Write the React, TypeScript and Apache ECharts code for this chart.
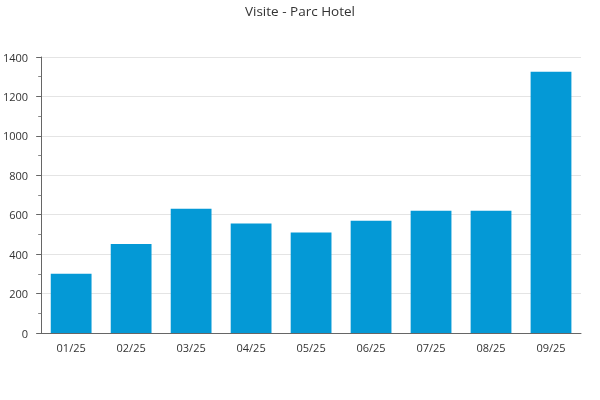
import React, { useEffect, useRef } from "react";
import * as echarts from "echarts";

const categories = ["01/25", "02/25", "03/25", "04/25", "05/25", "06/25", "07/25", "08/25", "09/25"];
const visits = [300, 452, 630, 555, 510, 570, 620, 620, 1325];

export default function App() {
  const ref = useRef<HTMLDivElement>(null);
  useEffect(() => {
    const chart = echarts.init(ref.current!, null, { renderer: "svg" });
    chart.setOption({
      animation: false,
      textStyle: { fontFamily: "Open Sans" },
      title: {
        text: "Visite - Parc Hotel",
        left: "center",
        top: -1,
        textStyle: { fontSize: 13.5, fontWeight: "normal", color: "#333", fontFamily: "Open Sans" },
      },
      grid: { left: 41, right: 19, top: 57, bottom: 67 },
      xAxis: {
        type: "category",
        data: categories,
        axisLine: { lineStyle: { color: "#666" } },
        axisTick: { show: false },
        axisLabel: { color: "#333", fontSize: 11, margin: 9 },
      },
      yAxis: {
        type: "value",
        min: 0,
        max: 1400,
        interval: 200,
        axisLine: { show: true, lineStyle: { color: "#666" } },
        axisTick: { show: true, length: 5, lineStyle: { color: "#666" } },
        minorTick: { show: true, splitNumber: 2, length: 3, lineStyle: { color: "#888" } },
        splitLine: { lineStyle: { color: "#e4e4e4" } },
        axisLabel: {
          color: "#333",
          fontSize: 11,
          margin: 13,
          formatter: (v: number) => String(v),
        },
      },
      series: [
        {
          type: "bar",
          data: visits,
          barWidth: "68%",
          itemStyle: { color: "#0499d6" },
        },
      ],
    });
    return () => chart.dispose();
  }, []);
  return (
    <div
      ref={ref}
      style={{ position: "fixed", left: 0, top: 0, width: 600, height: 400 }}
    />
  );
}
